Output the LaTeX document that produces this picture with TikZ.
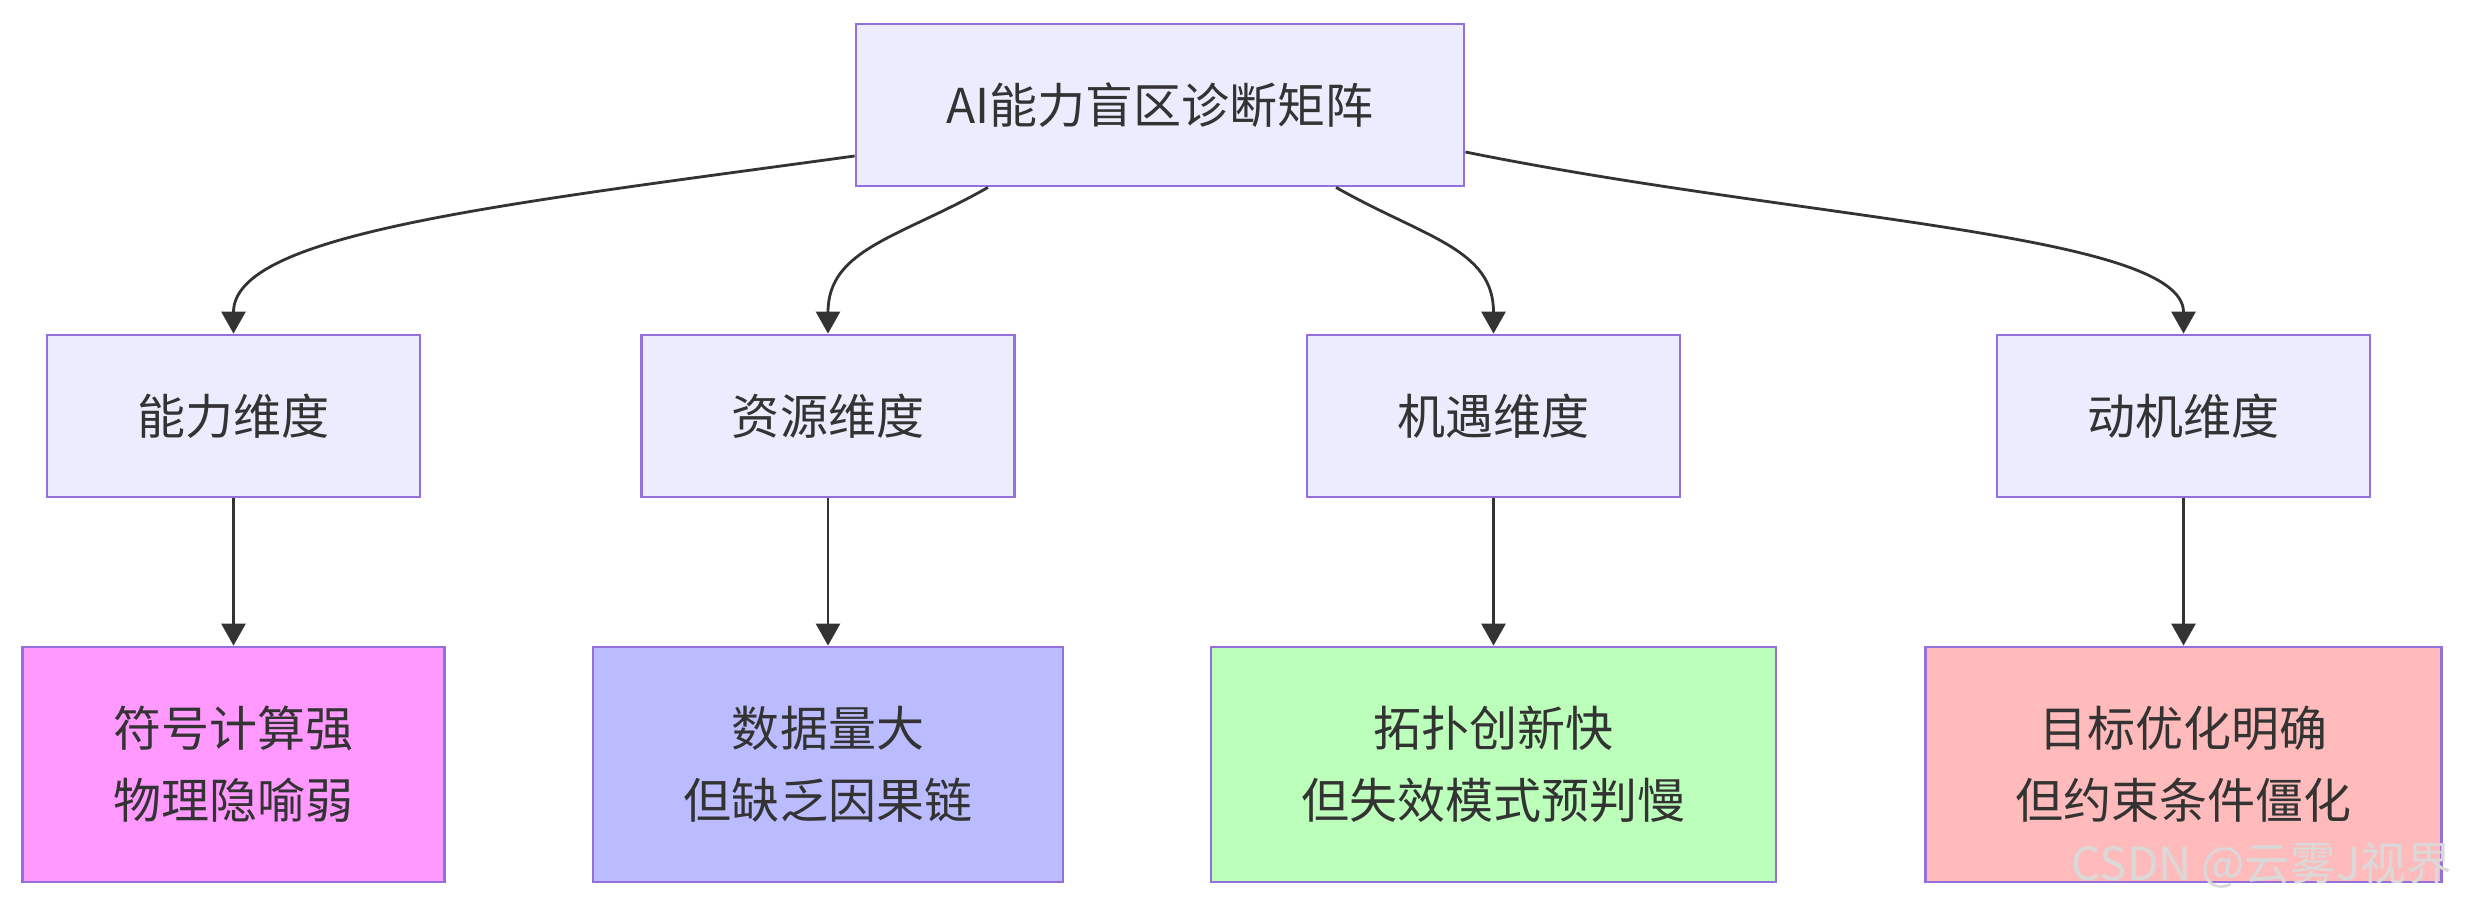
\documentclass[tikz,border=0pt]{standalone}
\usepackage{fontspec}
\setmainfont{Noto Sans CJK SC}
\usepackage{tikz}
\usetikzlibrary{arrows.meta, positioning}
\definecolor{mmfill}{HTML}{ECECFF}
\definecolor{mmline}{HTML}{9370DB}
\definecolor{mmtext}{HTML}{333333}
\definecolor{pinkfill}{HTML}{FF99FF}
\definecolor{bluefill}{HTML}{BBBBFF}
\definecolor{greenfill}{HTML}{BBFFBB}
\definecolor{redfill}{HTML}{FFBBBB}

\begin{document}
\begin{tikzpicture}[node distance=3.485cm, every node/.style={font=\fontsize{13.66pt}{20.5pt}\selectfont, text=mmtext, align=center},
    box/.style={draw=mmline, line width=0.8pt, fill=mmfill, rectangle, inner sep=0pt, minimum height=1.62cm},
    dimbox/.style={box, minimum width=3.73cm},
    leafbox/.style={box, minimum height=2.35cm},
    link/.style={draw=mmtext, line width=0.8pt, -{Triangle[length=2.2mm,width=2.4mm]}}]
        \fill[white] (0,0) rectangle (24.66,9.06);
        \useasboundingbox (0,0) rectangle (24.66,9.06);

        \node (root) [box, minimum width=6.08cm] at (11.60,8.01) {AI能力盲区诊断矩阵};

        \node (cap) [dimbox] at (2.335,4.90) {能力维度};
        \node (res) [dimbox] at (8.28,4.90) {资源维度};
        \node (opp) [dimbox] at (14.935,4.90) {机遇维度};
        \node (mot) [dimbox] at (21.835,4.90) {动机维度};

        \node (capx) [leafbox, fill=pinkfill, minimum width=4.22cm, below of=cap] {符号计算强\\物理隐喻弱};
        \node (resx) [leafbox, fill=bluefill, minimum width=4.70cm, below of=res] {数据量大\\但缺乏因果链};
        \node (oppx) [leafbox, fill=greenfill, minimum width=5.65cm, below of=opp] {拓扑创新快\\但失效模式预判慢};
        \node (motx) [leafbox, fill=redfill, minimum width=5.16cm, below of=mot] {目标优化明确\\但约束条件僵化};

        \draw [link] ([yshift=-0.51cm]root.west) .. controls +(-3.57,-0.49) and +(0,1.0) .. (cap.north);
        \draw [link] ([xshift=-1.72cm]root.south) .. controls +(-0.88,-0.5) and +(0,0.85) .. (res.north);
        \draw [link] ([xshift=1.76cm]root.south) .. controls +(0.88,-0.5) and +(0,0.85) .. (opp.north);
        \draw [link] ([yshift=-0.47cm]root.east) .. controls +(3.36,-0.68) and +(0,1.0) .. (mot.north);

        \draw [link] (cap) -- (capx);
        \draw [link] (res) -- (resx);
        \draw [link] (opp) -- (oppx);
        \draw [link] (mot) -- (motx);

        \node (wm) [text=black!15, font=\fontsize{13pt}{15pt}\selectfont] at (22.62,0.41) {CSDN @云雾J视界};
    \end{tikzpicture}
\end{document}
